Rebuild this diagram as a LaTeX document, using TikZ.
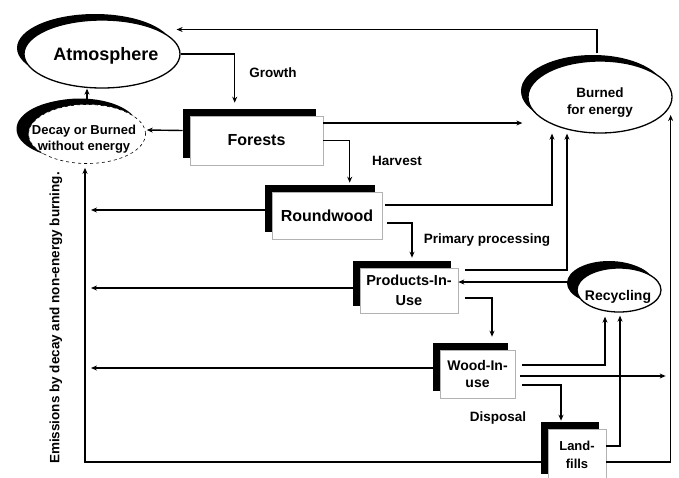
\documentclass[tikz,border=0pt]{standalone}
\usepackage{fontspec}
\setmainfont{Liberation Sans}
\usetikzlibrary{arrows.meta,calc,shapes.geometric,shadows}

\tikzset{
  box/.style={draw=gray!60, line width=0.6pt, fill=white, inner sep=0pt, align=center,
    drop shadow={shadow xshift=-7pt, shadow yshift=7pt, opacity=1, fill=black}},
  pool/.style={ellipse, draw, line width=1.3pt, fill=white, inner sep=0pt,
    drop shadow={shadow xshift=-7pt, shadow yshift=6pt, opacity=1, fill=black}},
  txt/.style={font=\bfseries\fontsize{13.5}{17}\selectfont, align=center, inner sep=0pt},
  flow/.style={line width=1.4pt, -{Stealth[length=6pt,width=5pt]}},
}

\begin{document}
\begin{tikzpicture}[x=1pt,y=-1pt]
  \useasboundingbox[fill=white] (0,0) rectangle (679,477);

  % pools
  \node[pool, minimum width=156pt, minimum height=68pt] (atm) at (102,54) {};
  \node[pool, dashed, line width=0.6pt, minimum width=117pt, minimum height=59pt,
    drop shadow={shadow xshift=-12pt, shadow yshift=5pt, opacity=1, fill=black}] (decay) at (87,134) {};
  \node[pool, minimum width=144pt, minimum height=72pt] (burned) at (600,97) {};
  \node[pool, minimum width=84pt, minimum height=44pt,
    drop shadow={shadow xshift=-10pt, shadow yshift=7pt, opacity=1, fill=black}] (recyc) at (619,290) {};
  \node[txt, font=\bfseries\fontsize{18}{20}\selectfont] (atmtxt) at (106,56) {Atmosphere};
  \node[txt, font=\bfseries\fontsize{13}{16}\selectfont] (decaytxt) at (84,139) {Decay or Burned\\without energy};
  \node[txt, font=\bfseries\fontsize{13.5}{17}\selectfont] (burnedtxt) at (600,103) {Burned\\for energy};
  \node[txt, font=\bfseries\fontsize{14}{17}\selectfont] (recyctxt) at (618,297) {Recycling};

  % stocks
  \node[box, minimum width=133pt, minimum height=49pt, font=\bfseries\fontsize{16}{19}\selectfont] (forests) at (256.5,140.5) {Forests};
  \node[box, minimum width=110pt, minimum height=47pt, font=\bfseries\fontsize{16}{19}\selectfont] (round) at (327,215.5) {Roundwood};
  \node[box, minimum width=98pt, minimum height=45pt, font=\bfseries\fontsize{14.5}{20}\selectfont] (prod) at (409,290.5) {Products-In-\\Use};
  \node[box, minimum width=75pt, minimum height=48pt, font=\bfseries\fontsize{14}{17}\selectfont] (wood) at (477.5,374) {Wood-In-\\use};
  \node[box, minimum width=58pt, minimum height=52pt, font=\bfseries\fontsize{13}{18}\selectfont] (land) at (577,455) {Land-\\fills};

  % labels
  \node[txt] (growth) at (273,73) {Growth};
  \node[txt] (harvest) at (397,161) {Harvest};
  \node[txt] (primary) at (487,240) {Primary processing};
  \node[txt] (disposal) at (498,418) {Disposal};
  \node[txt, rotate=90] (emis) at (56,318) {Emissions by decay and non-energy burning.};

  \coordinate (leftend) at (91,0);

  % flows
  \draw[flow] (decay.north) -- (decay.north |- atm.south);
  \draw[flow] (atm.east) -| ($(forests.north west)+(45,-13)$);
  \draw[flow] ($(forests.west)+(-7,-10)$) -- ($(decay.east)+(1,-4)$);
  \draw[flow] ($(forests.east)+(0,-17.5)$) -- ($(burned.west |- forests.east)+(-5,-17.5)$);
  \draw[flow] (forests.east) -| ($(round.north west)+(78,-9)$);
  \draw[flow] ($(burned.north)+(-3,-7)$) |- ($(atm.north east)+(19,0)$);
  \draw[flow] ($(round.west)+(-7,-5.5)$) -- ($(round.west -| leftend)+(0,-5.5)$);
  \draw[flow] ($(round.east)+(3,-10.5)$) -| ($(burned.south)+(-48,0)$);
  \draw[flow] ($(round.east)+(5,7.5)$) -| ($(prod.north)+(3,-10)$);
  \draw[flow] ($(prod.west)+(-6,-2.5)$) -- ($(prod.west -| leftend)+(0,-2.5)$);
  \draw[flow] ($(recyc.west)+(-7,-8)$) -- ($(prod.east)+(0,-8.5)$);
  \draw[flow] ($(prod.east)+(7,-20.5)$) -| ($(burned.south)+(-33,0)$);
  \draw[flow] ($(prod.east)+(7,7.5)$) -| ($(wood.north)+(14.5,-13)$);
  \draw[flow] ($(wood.west)+(-7,-6)$) -- ($(wood.west -| leftend)+(0,-6)$);
  \draw[flow] ($(wood.east)+(7,-9)$) -| ($(recyc.south)+(-14,4)$);
  \draw[flow] ($(wood.east)+(5,2)$) -- ($(wood.east -| burned.east)+(-7,2)$);
  \draw[flow] ($(wood.east)+(7,11)$) -| ($(land.north)+(-16,-8)$);
  \draw[flow] ($(land.east)+(0,-9)$) -| ($(recyc.south)+(1,3)$);
  \draw[flow] ($(land.east)+(0,7)$) -| ($(burned.east)+(-2,18)$);
  \draw[flow] ($(land.west)+(-6,7)$) -| ($(decay.south)+(-2,4)$);
\end{tikzpicture}
\end{document}
